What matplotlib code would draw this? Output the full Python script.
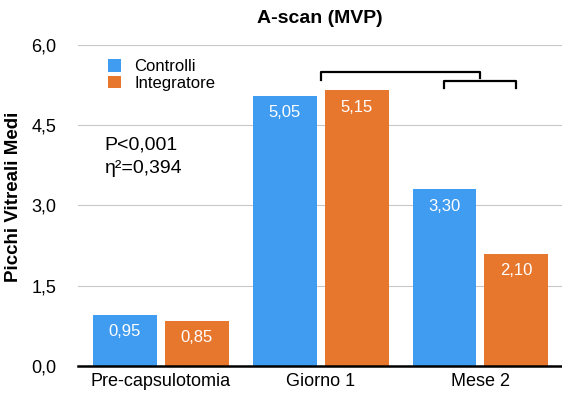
import matplotlib.pyplot as plt
import numpy as np

categorie = ["Pre-capsulotomia", "Giorno 1", "Mese 2"]
controlli = [0.95, 5.05, 3.30]
integratore = [0.85, 5.15, 2.10]
etichette_c = ["0,95", "5,05", "3,30"]
etichette_i = ["0,85", "5,15", "2,10"]
yticks = [0.0, 1.5, 3.0, 4.5, 6.0]
ytick_labels = ["0,0", "1,5", "3,0", "4,5", "6,0"]

col_c = "#3f9cf0"
col_i = "#e8772e"

plt.rcParams["font.family"] = ["Liberation Sans", "DejaVu Sans"]

fig = plt.figure(figsize=(5.62, 3.94), dpi=100)
ax = fig.add_axes([0.138, 0.071, 0.862, 0.815])

x = np.arange(len(categorie))
off = 0.225
w = 0.40
bc = ax.bar(x - off, controlli, w, color=col_c, label="Controlli", zorder=3)
bi = ax.bar(x + off, integratore, w, color=col_i, label="Integratore", zorder=3)

for rect, lab in zip(bc, etichette_c):
    ax.text(rect.get_x() + rect.get_width() / 2, rect.get_height() - 0.17, lab,
            ha="center", va="top", color="white", fontsize=12, zorder=4)
for rect, lab in zip(bi, etichette_i):
    ax.text(rect.get_x() + rect.get_width() / 2, rect.get_height() - 0.17, lab,
            ha="center", va="top", color="white", fontsize=12, zorder=4)

# parentesi di significatività
ax.plot([1, 1, 2, 2], [5.35, 5.50, 5.50, 5.38], color="black", lw=1.6, zorder=4)
ax.plot([2 - off, 2 - off, 2 + off, 2 + off], [5.20, 5.33, 5.33, 5.20], color="black", lw=1.6, zorder=4)

ax.text(-0.35, 4.13, "P<0,001", fontsize=14, va="center")
ax.text(-0.35, 3.70, "η²=0,394", fontsize=14, va="center")

ax.set_xlim(-0.52, 2.51)
ax.set_ylim(0, 6.0)
ax.set_yticks(yticks)
ax.set_yticklabels(ytick_labels, fontsize=13)
ax.set_xticks(x)
ax.set_xticklabels(categorie, fontsize=13)
ax.tick_params(axis="y", length=0, pad=15)
ax.tick_params(axis="x", length=0, pad=5)
ax.yaxis.grid(True, color="#c8c8c8", lw=0.8, zorder=0)
for s in ["left", "right", "top"]:
    ax.spines[s].set_visible(False)
ax.spines["bottom"].set_linewidth(1.8)
ax.spines["bottom"].set_zorder(5)

ax.set_ylabel("Picchi Vitreali Medi", fontsize=13.5, fontweight="bold")
ax.yaxis.set_label_coords(-0.114, 0.526)
ax.set_title("A-scan (MVP)", fontsize=14, fontweight="bold", pad=16)

ax.legend(loc="upper left", bbox_to_anchor=(0.062, 0.955), frameon=False, fontsize=12,
          borderpad=0, borderaxespad=0,
          handlelength=0.8, handleheight=0.75, handletextpad=0.8, labelspacing=0.1)

fig.savefig("out.png", dpi=100)
